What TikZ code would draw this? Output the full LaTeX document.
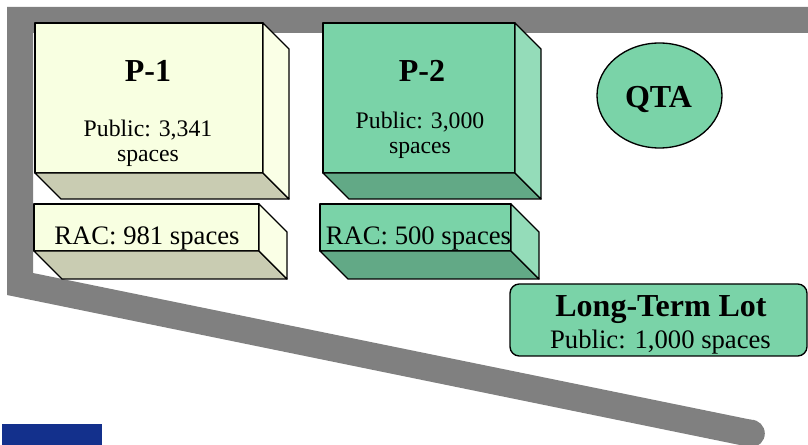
\documentclass[tikz,border=0pt]{standalone}
\usepackage{fontspec}
\setmainfont{Liberation Serif}
\usetikzlibrary{calc,shapes.geometric}
\definecolor{road}{HTML}{808080}
\definecolor{ylfront}{HTML}{F8FFE1}
\definecolor{ylside}{HTML}{FAFFE6}
\definecolor{ylbottom}{HTML}{C9CCB2}
\definecolor{grfront}{HTML}{7AD3A8}
\definecolor{grside}{HTML}{94DCB9}
\definecolor{grbottom}{HTML}{62A986}
\definecolor{bluebar}{HTML}{13308C}
\tikzset{
  face/.style={draw=black, line width=1pt, line join=round, inner sep=0pt, outer sep=0pt},
  bodytext/.style={font=\fontsize{20}{24}\selectfont, anchor=base, inner sep=0pt},
  smalltext/.style={font=\fontsize{17.8}{21}\selectfont, anchor=base, inner sep=0pt},
  headtext/.style={font=\bfseries\fontsize{24}{28}\selectfont, anchor=base, inner sep=0pt},
}
\begin{document}
\begin{tikzpicture}[x=0.75pt,y=-0.75pt]
\useasboundingbox (0,0) rectangle (808,445);
% road
\fill[road] (7,7) -- (808,7) -- (808,33) -- (33,33) -- (33,273) -- (751,419.7)
  -- (751,447.3) -- (7,295) -- cycle;
\fill[road] (751,433.5) circle[radius=13.8];
% blue bar
\fill[bluebar] (2,424) rectangle (102,445);

% P-1
\node[face, fill=ylfront, minimum width=171pt, minimum height=112.5pt] (p1) at (149,98) {};
\draw[face, fill=ylbottom] (p1.south west) -- (p1.south east) -- ($(p1.south east)+(26,26)$) -- ($(p1.south west)+(26,26)$) -- cycle;
\draw[face, fill=ylside] (p1.north east) -- ($(p1.north east)+(26,26)$) -- ($(p1.south east)+(26,26)$) -- (p1.south east) -- cycle;
\node[headtext] (p1t) at (148,82) {P-1};
\node[smalltext] (p1a) at (148,137) {Public: 3,341};
\node[smalltext] (p1b) at (148,162) {spaces};

% P-1 RAC
\node[face, fill=ylfront, minimum width=168.75pt, minimum height=35.25pt] (r1) at (146.5,227.5) {};
\draw[face, fill=ylbottom] (r1.south west) -- (r1.south east) -- ($(r1.south east)+(28,28)$) -- ($(r1.south west)+(28,28)$) -- cycle;
\draw[face, fill=ylside] (r1.north east) -- ($(r1.north east)+(28,28)$) -- ($(r1.south east)+(28,28)$) -- (r1.south east) -- cycle;
\node[bodytext] (r1t) at (147,244.5) {RAC: 981 spaces};

% P-2
\node[face, fill=grfront, minimum width=144pt, minimum height=112.5pt] (p2) at (419,98) {};
\draw[face, fill=grbottom] (p2.south west) -- (p2.south east) -- ($(p2.south east)+(26,26)$) -- ($(p2.south west)+(26,26)$) -- cycle;
\draw[face, fill=grside] (p2.north east) -- ($(p2.north east)+(26,26)$) -- ($(p2.south east)+(26,26)$) -- (p2.south east) -- cycle;
\node[headtext] (p2t) at (422,82) {P-2};
\node[smalltext] (p2a) at (420,129) {Public: 3,000};
\node[smalltext] (p2b) at (420,154) {spaces};

% P-2 RAC
\node[face, fill=grfront, minimum width=143.25pt, minimum height=35.25pt] (r2) at (415.5,227.5) {};
\draw[face, fill=grbottom] (r2.south west) -- (r2.south east) -- ($(r2.south east)+(28,28)$) -- ($(r2.south west)+(28,28)$) -- cycle;
\draw[face, fill=grside] (r2.north east) -- ($(r2.north east)+(28,28)$) -- ($(r2.south east)+(28,28)$) -- (r2.south east) -- cycle;
\node[bodytext] (r2t) at (418.5,244.5) {RAC: 500 spaces};

% QTA
\node[face, ellipse, fill=grfront, minimum width=93.75pt, minimum height=78.75pt] (qta) at (659.5,95.5) {};
\node[headtext] (qtat) at (658.5,108) {QTA};

% Long-Term Lot
\node[face, fill=grfront, rounded corners=7pt, minimum width=222.75pt, minimum height=54pt] (ltl) at (658.5,320) {};
\node[headtext] (ltlt) at (661,316.5) {Long-Term Lot};
\node[bodytext] (ltla) at (660.5,349) {Public: 1,000 spaces};
\end{tikzpicture}
\end{document}
